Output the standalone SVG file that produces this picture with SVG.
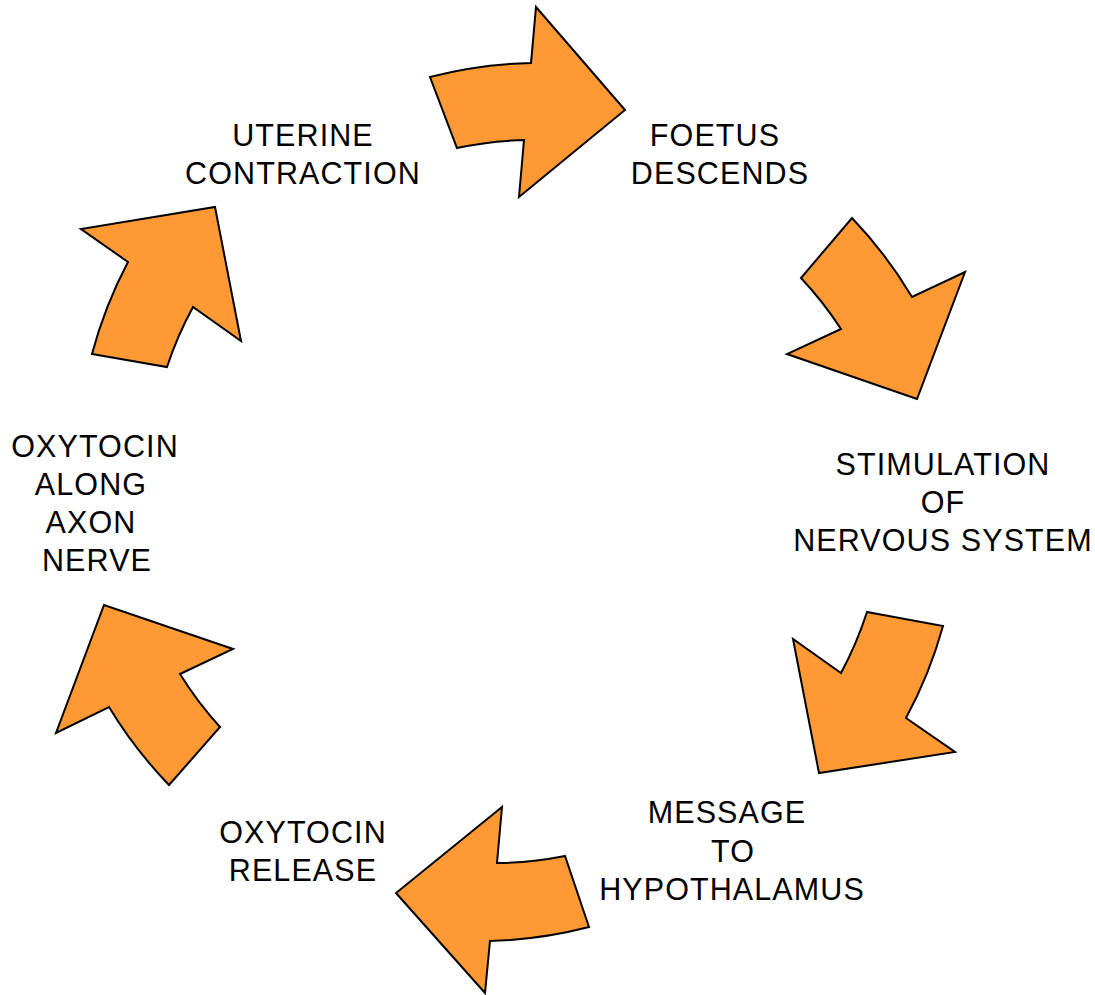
<svg xmlns="http://www.w3.org/2000/svg" width="1095" height="995" viewBox="0 0 1095 995">
<style>
.arrow{fill:#FF9933;stroke:#000;stroke-width:2;stroke-linejoin:miter}
.lbl{font-family:"Liberation Sans",Arial,sans-serif;font-size:30.5px;letter-spacing:1.1px;fill:#000;text-anchor:middle}
</style>
<rect width="1095" height="995" fill="#fff"/>
<g id="connectors">
<path id="arrow1" class="arrow" d="M430,77 A440,440 0 0 1 531,63 L536,7 L625,110 L519,197 L524,140 A365,365 0 0 0 457,148 Z"/>
<path id="arrow2" class="arrow" d="M852,218 A440,440 0 0 1 912,297 L965,272 L917,399 L787,354 L841,329 A365,365 0 0 0 801,278 Z"/>
<path id="arrow3" class="arrow" d="M867,612 L943,626 A440,440 0 0 1 906,718 L955,752 L819,773 L793,639 L841,673 A365,365 0 0 0 867,612 Z"/>
<path id="arrow4" class="arrow" d="M589,927 L565,856 A365,365 0 0 1 497,863 L502,807 L396,893 L485,993 L490,941 A440,440 0 0 0 589,927 Z"/>
<path id="arrow5" class="arrow" d="M169,785 L220,727 A365,365 0 0 1 180,674 L233,649 L104,605 L56,733 L109,707 A440,440 0 0 0 169,785 Z"/>
<path id="arrow6" class="arrow" d="M92,354 L167,367 A365,365 0 0 1 193,307 L241,341 L215,207 L81,229 L128,262 A440,440 0 0 0 92,354 Z"/>
</g>
<g id="node-uterine">
<text class="lbl" x="303" y="146">UTERINE</text>
<text class="lbl" x="303" y="184">CONTRACTION</text>
</g>
<g id="node-foetus">
<text class="lbl" x="715" y="146">FOETUS</text>
<text class="lbl" x="720" y="184">DESCENDS</text>
</g>
<g id="node-stimulation">
<text class="lbl" x="943" y="475">STIMULATION</text>
<text class="lbl" x="943" y="513">OF</text>
<text class="lbl" x="943" y="551">NERVOUS SYSTEM</text>
</g>
<g id="node-message">
<text class="lbl" x="727" y="823">MESSAGE</text>
<text class="lbl" x="733" y="862">TO</text>
<text class="lbl" x="732" y="900">HYPOTHALAMUS</text>
</g>
<g id="node-release">
<text class="lbl" x="303" y="843">OXYTOCIN</text>
<text class="lbl" x="303" y="881">RELEASE</text>
</g>
<g id="node-axon">
<text class="lbl" x="95" y="457">OXYTOCIN</text>
<text class="lbl" x="91" y="495">ALONG</text>
<text class="lbl" x="91" y="533">AXON</text>
<text class="lbl" x="97" y="571">NERVE</text>
</g>
</svg>
